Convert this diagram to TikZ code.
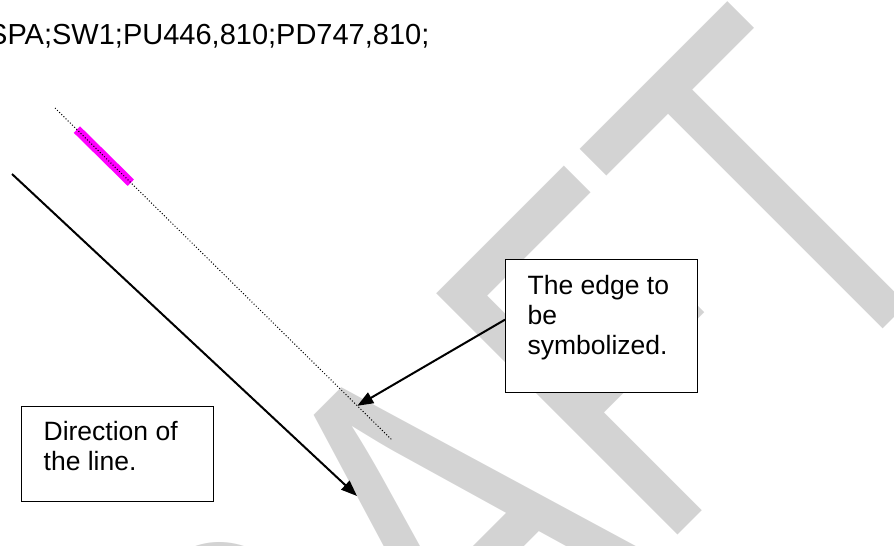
\documentclass[tikz,border=0pt]{standalone}
\usepackage{fontspec}
\setmainfont{Liberation Sans}
\usetikzlibrary{arrows.meta,calc}
\definecolor{marca}{RGB}{211,211,211}
\definecolor{rosa}{RGB}{255,0,255}
\tikzset{
  caja/.style={draw, line width=1.3pt, fill=white, anchor=north west,
    inner xsep=22pt, font=\fontsize{26.5}{30}\selectfont},
  flecha/.style={line width=2pt, -{Triangle[length=16pt,width=12pt]}}
}
\begin{document}
\begin{tikzpicture}[x=1pt, y=-1pt]
  \useasboundingbox (0,0) rectangle (894,546);

  % Marca de agua
  \node[text=marca, rotate=45, xscale=0.745, anchor=base east, inner sep=0pt,
    font=\fontsize{496}{496}\selectfont] (borrador) at (975.4,236.6) {DRAFT};

  % Comando en la parte superior
  \node[anchor=base west, inner sep=0pt, font=\fontsize{29}{34}\selectfont]
    (comando) at (-12,44) {SPA;SW1;PU446,810;PD747,810;};

  % Borde: linea punteada con el tramo marcado
  \coordinate (ini) at (55,108);
  \coordinate (fin) at (392,440);
  \draw[rosa, line width=9pt] ($(ini)!0.065!(fin)$) -- ($(ini)!0.225!(fin)$);
  \draw[line width=1pt, dash pattern=on 1pt off 2pt] (ini) -- (fin);
  \coordinate (punta) at ($(ini)!0.897!(fin)$);

  % Direccion de la linea
  \coordinate (desde) at (12,174);
  \coordinate (hasta) at (357,496);
  \draw[flecha] (desde) -- (hasta);

  % Cuadros de texto
  \node[caja, inner ysep=16pt] (borde) at (505,258.5)
    {\parbox[t][101pt][t]{148pt}{The edge to\\ be\\ symbolized.}};
  \node[caja, inner ysep=15pt] (direccion) at (21,406)
    {\parbox[t][65pt][t]{148pt}{Direction of\\ the line.}};
  \draw[flecha] ([yshift=6pt]borde.west) -- (punta);
\end{tikzpicture}
\end{document}
